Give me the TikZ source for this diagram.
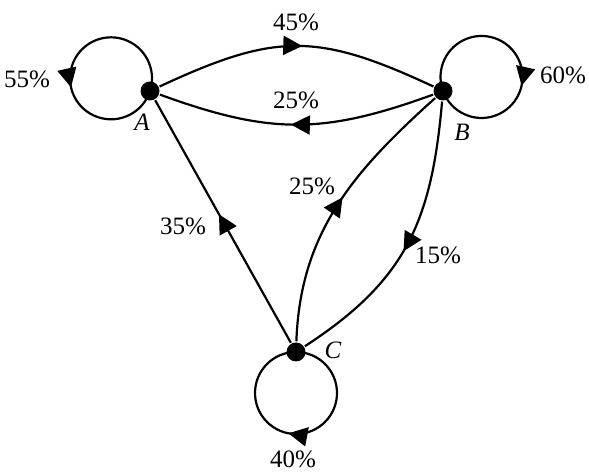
\documentclass[tikz,border=0pt]{standalone}
\usepackage{fontspec}
\setmainfont{Liberation Serif}
\usetikzlibrary{arrows.meta,decorations.markings}

\begin{document}
\begin{tikzpicture}[x=0.5pt, y=0.5pt, line width=1.1pt,
	dot/.style = {circle, fill, inner sep=0pt, minimum size=9.5pt},
	lbl/.style = {font=\fontsize{12.5}{14}\selectfont, inner sep=0pt},
	midarrow/.style = {postaction={decorate}, decoration={markings,
		mark=at position #1 with {\arrow{Triangle[length=9.5pt, width=9.5pt]}}}}]
	\useasboundingbox (0,0) rectangle (589,475);
	% states
	\node[dot] (A) at (150,384) {};
	\node[dot] (B) at (443,384) {};
	\node[dot] (C) at (296,123) {};
	\node[lbl] (labA) at (142,353) {\textit{A}};
	\node[lbl] (labB) at (462,343) {\textit{B}};
	\node[lbl] (labC) at (333,125) {\textit{C}};
	% loops
	\draw[midarrow=0.585] (A.center) arc[start angle=-18, delta angle=360, radius=41];
	\draw[midarrow=0.59] (B.center) arc[start angle=200, delta angle=-360, radius=41];
	\draw[midarrow=0.53] (C.center) arc[start angle=90, delta angle=-360, radius=41];
	% transitions
	\draw[midarrow=0.52] (A) to[out=25, in=155, looseness=1.2] (B);
	\draw[midarrow=0.52] (B) to[out=200, in=-20, looseness=1.1] (A);
	\draw[midarrow=0.53] (C) -- (A);
	\draw[midarrow=0.53] (C) to[out=88, in=222] (B);
	\draw[midarrow=0.53] (B) to[out=265, in=33, looseness=1.1] (C);
	% probabilities
	\node[lbl] (pAB) at (296,453) {45\%};
	\node[lbl] (pBA) at (296,375) {25\%};
	\node[lbl] (pAA) at (27,396) {55\%};
	\node[lbl] (pBB) at (563,400) {60\%};
	\node[lbl] (pCA) at (183,249) {35\%};
	\node[lbl] (pCB) at (312,289) {25\%};
	\node[lbl] (pBC) at (438,220) {15\%};
	\node[lbl] (pCC) at (293,16) {40\%};
\end{tikzpicture}
\end{document}
